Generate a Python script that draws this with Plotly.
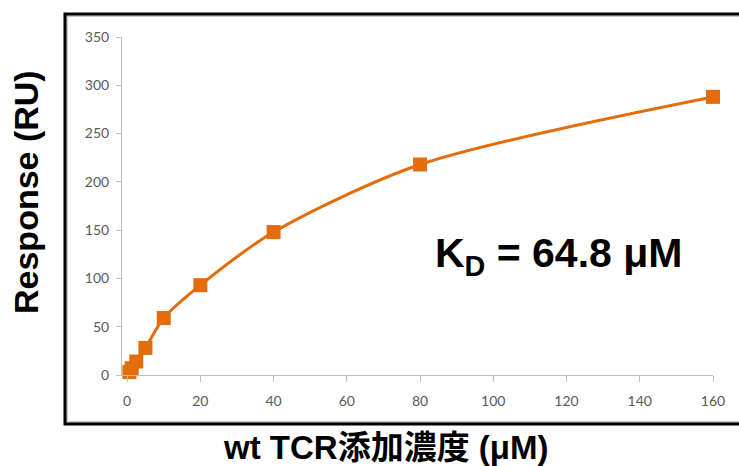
import plotly.graph_objects as go

# Binding response of wt TCR at each added concentration
conc_um = [0.625, 1.25, 2.5, 5, 10, 20, 40, 80, 160]
response_ru = [3, 7, 14, 28, 59, 93, 148, 218, 288]

x_ticks = [0, 20, 40, 60, 80, 100, 120, 140, 160]
y_ticks = [0, 50, 100, 150, 200, 250, 300, 350]

kd_value = 64.8

ORANGE = "#E46C0A"
TICK_GRAY = "#595959"
AXIS_GRAY = "#BFBFBF"

W, H = 739, 466
L, R, T, B = 122, 26, 37, 91
PW, PH = W - L - R, H - T - B


def px_x(x):
    return (x - L) / PW


def px_y(y):
    return (H - B - y) / PH


fig = go.Figure()
fig.add_trace(go.Scatter(
    x=conc_um, y=response_ru,
    mode="lines+markers",
    line=dict(color=ORANGE, width=3, shape="spline", smoothing=0.8),
    marker=dict(symbol="square", size=14, color=ORANGE),
    cliponaxis=False,
    showlegend=False,
    hoverinfo="x+y",
))

fig.update_layout(
    width=W, height=H, autosize=False,
    margin=dict(l=L, r=R, t=T, b=B, pad=0),
    paper_bgcolor="white", plot_bgcolor="white",
    font=dict(family="Lato, Arial, sans-serif"),
    xaxis=dict(
        range=[-1.4, 160], tickvals=x_ticks,
        showgrid=False, zeroline=False,
        showline=True, linecolor=AXIS_GRAY, linewidth=1,
        ticks="outside", ticklen=6, tickcolor=AXIS_GRAY, tickwidth=1,
        tickfont=dict(size=14, color=TICK_GRAY),
        ticklabelstandoff=7,
    ),
    yaxis=dict(
        range=[0, 350], tickvals=y_ticks,
        showgrid=False, zeroline=False,
        showline=True, linecolor=AXIS_GRAY, linewidth=1,
        ticks="outside", ticklen=5, tickcolor=AXIS_GRAY, tickwidth=1,
        tickfont=dict(size=14, color=TICK_GRAY),
        ticklabelstandoff=4,
    ),
)

# Outer frame around the chart area (open on the right)
fig.add_shape(type="rect", xref="paper", yref="paper",
              x0=px_x(67), x1=px_x(W + 20),
              y0=px_y(422), y1=px_y(16),
              line=dict(color="#C8C8C8", width=2), layer="below")
fig.add_shape(type="rect", xref="paper", yref="paper",
              x0=px_x(65), x1=px_x(W + 20),
              y0=px_y(424), y1=px_y(14),
              line=dict(color="black", width=3), layer="below")

title_family = "Liberation Sans, Arial, Noto Sans CJK JP, sans-serif"

fig.add_annotation(
    text="<b>Response (RU)</b>", textangle=-90,
    xref="paper", yref="paper",
    x=px_x(26), y=px_y(192),
    showarrow=False, font=dict(family=title_family, size=34, color="black"),
    xanchor="center", yanchor="middle",
)
fig.add_annotation(
    text="<b>wt TCR添加濃度 (μM)</b>",
    xref="paper", yref="paper",
    x=px_x(385), y=px_y(447),
    showarrow=False, font=dict(family=title_family, size=33, color="black"),
    xanchor="center", yanchor="middle",
)
fig.add_annotation(
    text=f"<b>K<sub>D</sub> = {kd_value} μM</b>",
    xref="paper", yref="paper",
    x=px_x(558), y=px_y(256),
    showarrow=False,
    font=dict(family="Liberation Sans, Arial, sans-serif", size=41, color="black"),
    xanchor="center", yanchor="middle",
)

fig.write_html("out.html")
